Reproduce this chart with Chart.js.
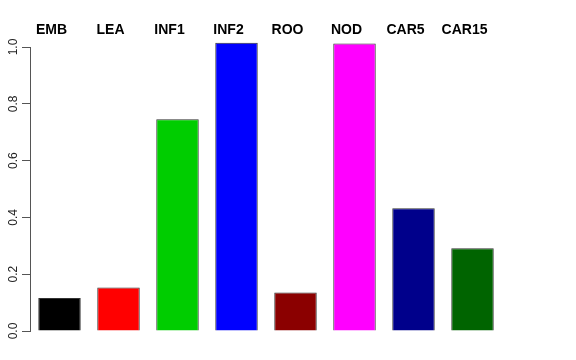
<!DOCTYPE html>
<html>
<head>
<meta charset="utf-8">
<script src="https://cdn.jsdelivr.net/npm/chart.js@4"></script>
<style>
  html, body { margin: 0; padding: 0; background: #fff; }
  #wrap { width: 576px; height: 360px; }
</style>
</head>
<body>
<div id="wrap"><canvas id="grafico"></canvas></div>
<script>
const categorias = ["EMB", "LEA", "INF1", "INF2", "ROO", "NOD", "CAR5", "CAR15"]
const valores = [0.116, 0.153, 0.746, 1.015, 0.136, 1.012, 0.432, 0.291]
const colores = ["#000000", "#FF0000", "#00CD00", "#0000FF", "#8B0000", "#FF00FF", "#00008B", "#006400"]
const ticksY = [0, 0.2, 0.4, 0.6, 0.8, 1.0]

new Chart(document.getElementById("grafico"), {
  type: 'bar',
  data: {
    labels: categorias,
    datasets: [{
      data: valores,
      backgroundColor: colores,
      borderColor: "#333",
      borderWidth: 1,
      clip: false,
      categoryPercentage: 1,
      barPercentage: 0.72
    }]
  },
  options: {
    responsive: true,
    maintainAspectRatio: false,
    animation: false,
    layout: { padding: { top: 0, right: 74, bottom: 29, left: 0 } },
    plugins: { legend: { display: false }, tooltip: { enabled: false } },
    scales: {
      x: {
        position: 'top',
        border: { display: false },
        grid: { display: false, drawTicks: false },
        ticks: {
          color: "#000",
          font: { family: "Liberation Sans", size: 14, weight: 'bold' },
          padding: 8,
          labelOffset: -8
        },
        afterFit: (s) => { s.height = 47 }
      },
      y: {
        min: 0,
        max: 1,
        border: { display: true, color: "#555", width: 1 },
        grid: { drawOnChartArea: false, drawTicks: true, tickLength: 8, color: "#555" },
        afterBuildTicks: (s) => { s.ticks = ticksY.map(v => ({ value: v })) },
        ticks: {
          color: "#222",
          font: { family: "Liberation Sans", size: 12 },
          minRotation: 90,
          maxRotation: 90,
          crossAlign: 'center',
          padding: 0,
          callback: (v) => Number(v).toFixed(1)
        },
        afterFit: (s) => { s.width = 30 }
      }
    }
  }
})
</script>
</body>
</html>
